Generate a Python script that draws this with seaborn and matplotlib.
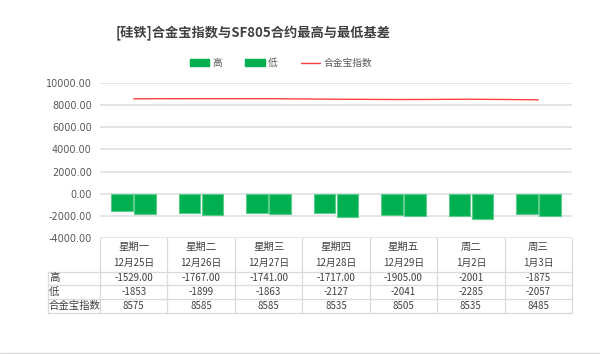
import numpy as np
import pandas as pd
import matplotlib
matplotlib.use('Agg')
import matplotlib.pyplot as plt
import seaborn as sns
from matplotlib.transforms import blended_transform_factory
from matplotlib.lines import Line2D
from matplotlib.patches import Patch

weekdays = ['星期一', '星期二', '星期三', '星期四', '星期五', '周二', '周三']
dates = ['12月25日', '12月26日', '12月27日', '12月28日', '12月29日', '1月2日', '1月3日']
high = [-1529, -1767, -1741, -1717, -1905, -2001, -1875]
low = [-1853, -1899, -1863, -2127, -2041, -2285, -2057]
index_vals = [8575, 8585, 8585, 8535, 8505, 8535, 8485]
high_labels = ['-1529.00', '-1767.00', '-1741.00', '-1717.00', '-1905.00', '-2001', '-1875']
yticks = [-4000, -2000, 0, 2000, 4000, 6000, 8000, 10000]
series_names = ['高', '低', '合金宝指数']
title = '[硅铁]合金宝指数与SF805合约最高与最低基差'

sns.set_theme(style='white')
plt.rcParams['font.family'] = ['Noto Sans CJK SC', 'DejaVu Sans']

W, H = 600, 354
fig = plt.figure(figsize=(6, 3.54), dpi=100)
ax = fig.add_axes([100 / W, 1 - 238 / H, 472 / W, 155 / H])

df = pd.DataFrame({'cat': dates * 2,
                   'series': [series_names[0]] * 7 + [series_names[1]] * 7,
                   'val': high + low})
green = '#00B050'
sns.barplot(data=df, x='cat', y='val', hue='series', hue_order=series_names[:2],
            palette=[green, green], saturation=1, width=0.68, gap=0.06, ax=ax, legend=False,
            edgecolor='#5CCB8E', linewidth=0.8, zorder=3)
ax.plot(np.arange(len(dates)), index_vals, color='#FF4040', lw=1.0, zorder=4)

ax.set_ylim(-4000, 10000)
ax.set_xlim(-0.5, len(dates) - 0.5)
ax.set_yticks(yticks)
ax.set_yticklabels([f'{v:.2f}' for v in yticks], fontsize=7, color='#595959',
                   family=['DejaVu Sans'])
ax.tick_params(axis='y', length=0, pad=6)
ax.set_xticks([])
ax.set_xlabel('')
ax.set_ylabel('')
ax.yaxis.grid(True, color='#E3E3E3', lw=1.3)
ax.set_axisbelow(True)
for s in ax.spines.values():
    s.set_visible(False)

# table
tr = blended_transform_factory(ax.transData, fig.transFigure)
def fy(px):
    return 1 - px / H
lc = '#DADADA'
for i in range(len(dates) + 1):
    fig.add_artist(Line2D([i - 0.5, i - 0.5], [fy(238), fy(313)], transform=tr, color=lc, lw=0.9))
for ypx in [272, 285, 299, 313]:
    fig.add_artist(Line2D([-0.5, len(dates) - 0.5], [fy(ypx), fy(ypx)], transform=tr, color=lc, lw=0.9))
    fig.add_artist(Line2D([48 / W, 100 / W], [fy(ypx), fy(ypx)], transform=fig.transFigure, color=lc, lw=0.9))
fig.add_artist(Line2D([48 / W, 48 / W], [fy(272), fy(313)], transform=fig.transFigure, color=lc, lw=0.9))

tc = '#404040'
fs = 7
for i in range(len(dates)):
    fig.text(i, fy(247), weekdays[i], transform=tr, ha='center', va='center', fontsize=fs + 0.5, color=tc)
    fig.text(i, fy(263), dates[i], transform=tr, ha='center', va='center', fontsize=fs, color=tc)
    fig.text(i, fy(278), high_labels[i], transform=tr, ha='center', va='center', fontsize=fs, color=tc)
    fig.text(i, fy(292), str(low[i]), transform=tr, ha='center', va='center', fontsize=fs, color=tc)
    fig.text(i, fy(306), str(index_vals[i]), transform=tr, ha='center', va='center', fontsize=fs, color=tc)
for name, ypx in zip(series_names, [278, 292, 306]):
    fig.text(49 / W, fy(ypx), name, ha='left', va='center', fontsize=fs + 0.5, color=tc)

# title
fig.text(253 / W, fy(33), title, ha='center', va='center', fontsize=9.5, weight='bold', color='#404040')

# legend
handles = [Patch(facecolor=green, edgecolor=green),
           Patch(facecolor=green, edgecolor=green),
           Line2D([0], [0], color='#FF4040', lw=1.0)]
fig.legend(handles, series_names, loc='center', bbox_to_anchor=(281 / W, fy(63)), ncol=3,
           frameon=False, fontsize=7, handlelength=2.0, handleheight=0.6,
           handletextpad=0.3, columnspacing=2.4, labelcolor='#595959')

fig.add_artist(Line2D([0, 1], [fy(352.5), fy(352.5)], transform=fig.transFigure, color='#D9D9D9', lw=1))

fig.savefig('out.png', dpi=100)
